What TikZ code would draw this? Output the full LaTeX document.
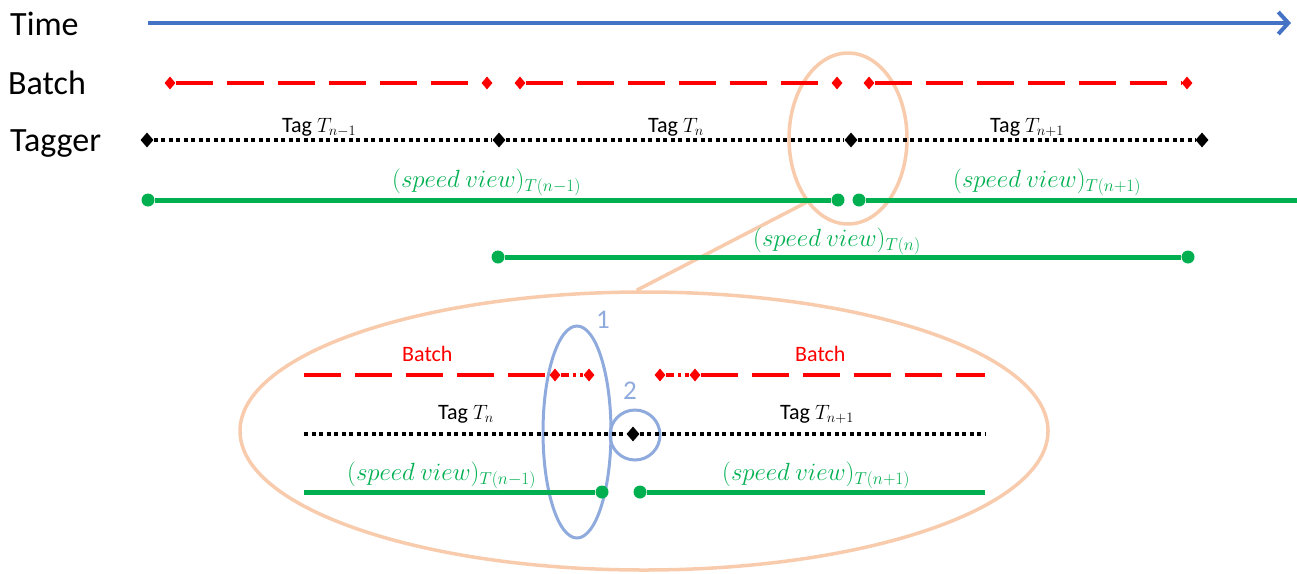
\documentclass[tikz,border=0pt]{standalone}
\usepackage{fontspec}
\setmainfont{Carlito}
\usetikzlibrary{shapes.geometric,arrows.meta}
\definecolor{tblue}{RGB}{68,114,196}
\definecolor{tred}{RGB}{255,0,0}
\definecolor{tgreen}{RGB}{0,176,80}
\definecolor{torange}{RGB}{248,203,173}
\definecolor{lblue}{RGB}{143,170,220}
\tikzset{
  rdia/.style={diamond, fill=tred, inner sep=0, minimum width=11, minimum height=13},
  kdia/.style={diamond, fill=black, inner sep=0, minimum width=13, minimum height=15},
  gdot/.style={circle, fill=tgreen, inner sep=0, minimum size=13},
  redline/.style={draw=tred, line width=4, dash pattern=on 37 off 14},
  redshort/.style={draw=tred, line width=4, dash pattern=on 8 off 4 on 3 off 4},
  blackdots/.style={draw=black, line width=4, dash pattern=on 4 off 3.5},
  greenline/.style={draw=tgreen, line width=5},
  orangeline/.style={draw=torange, line width=3.5},
  blueline/.style={draw=lblue, line width=3},
  lab/.style={anchor=base west, inner sep=0},
  big/.style={lab, font=\fontsize{34}{40}\selectfont},
  tag/.style={lab, font=\fontsize{22}{26}\selectfont},
  sv/.style={lab, text=tgreen, font=\fontsize{24}{29}\selectfont},
  rlab/.style={lab, text=tred, font=\fontsize{22}{26}\selectfont},
  num/.style={inner sep=0, text=lblue, font=\fontsize{27}{32}\selectfont},
}
\begin{document}
\begin{tikzpicture}[x=1pt,y=-1pt]
\useasboundingbox (0,0) rectangle (1297,573);
% zoom ellipses
\node[ellipse, orangeline, inner sep=0, minimum width=118, minimum height=171] (zsrc) at (848,138.5) {};
\node[ellipse, orangeline, inner sep=0, minimum width=808, minimum height=278] (zdst) at (644,431) {};
\draw[orangeline] (zsrc.237) -- (zdst.93);
% blue marks
\node[ellipse, blueline, inner sep=0, minimum width=68, minimum height=212] (m1) at (577,432) {};
\node[circle, blueline, inner sep=0, minimum size=50] (m2) at (635,435) {};
\node[num] (n1) at (603,320) {1};
\node[num] (n2) at (630,391) {2};
% row labels
\node[big] (ltime) at (10,35) {Time};
\node[big] (lbatch) at (8,94) {Batch};
\node[big] (ltagger) at (10,151) {Tagger};
% time arrow
\coordinate (t0) at (148,23);
\coordinate (t1) at (1291,23);
\draw[draw=tblue, line width=4, -{Straight Barb[length=10,width=22]}] (t0) -- (t1);
% batch row
\node[rdia] (b1) at (170,83) {};
\node[rdia] (b2) at (487,83) {};
\node[rdia] (b3) at (520,83) {};
\node[rdia] (b4) at (837,83) {};
\node[rdia] (b5) at (869,83) {};
\node[rdia] (b6) at (1187,83) {};
\draw[redline] (b1) -- (b2);
\draw[redline] (b3) -- (b4);
\draw[redline] (b5) -- (b6);
% tagger row
\node[kdia] (k1) at (147,140) {};
\node[kdia] (k2) at (499,140) {};
\node[kdia] (k3) at (851,140) {};
\node[kdia] (k4) at (1202,140) {};
\draw[blackdots] (k1) -- (k2);
\draw[blackdots] (k2) -- (k3);
\draw[blackdots] (k3) -- (k4);
\node[tag] (tg1) at (282,132) {Tag $T_{n-1}$};
\node[tag] (tg2) at (648,132) {Tag $T_{n}$};
\node[tag] (tg3) at (990,132) {Tag $T_{n+1}$};
% speed view rows
\node[gdot] (g1) at (148,200) {};
\node[gdot] (g2) at (838,200) {};
\node[gdot] (g3) at (859,200) {};
\coordinate (g4) at (1297,200);
\node[gdot] (g5) at (498,257) {};
\node[gdot] (g6) at (1188,257) {};
\draw[greenline] (g1) -- (g2);
\draw[greenline] (g3) -- (g4);
\draw[greenline] (g5) -- (g6);
\node[sv] (s1) at (392,187) {$(speed\ view)_{T(n-1)}$};
\node[sv] (s2) at (953,187) {$(speed\ view)_{T(n+1)}$};
\node[sv] (s3) at (753,246) {$(speed\ view)_{T(n)}$};
% zoomed detail
\coordinate (ib0) at (304,375);
\node[rdia] (ib1) at (555,375) {};
\node[rdia] (ib2) at (589,375) {};
\node[rdia] (ib3) at (660,375) {};
\node[rdia] (ib4) at (695,375) {};
\coordinate (ib5) at (985,375);
\draw[redline] (ib0) -- (ib1);
\draw[redshort] (ib1) -- (ib2);
\draw[redshort] (ib3) -- (ib4);
\draw[redline] (ib4) -- (ib5);
\node[rlab] (rb1) at (402,361) {Batch};
\node[rlab] (rb2) at (795,361) {Batch};
\coordinate (ik0) at (304,434);
\node[kdia] (ik1) at (633,434) {};
\coordinate (ik2) at (985,434);
\draw[blackdots] (ik0) -- (ik1);
\draw[blackdots] (ik1) -- (ik2);
\node[tag] (it1) at (438,419) {Tag $T_{n}$};
\node[tag] (it2) at (780,419) {Tag $T_{n+1}$};
\coordinate (ig0) at (304,492);
\node[gdot] (ig1) at (602,492) {};
\node[gdot] (ig2) at (640,492) {};
\coordinate (ig3) at (985,492);
\draw[greenline] (ig0) -- (ig1);
\draw[greenline] (ig2) -- (ig3);
\node[sv] (is1) at (347,480) {$(speed\ view)_{T(n-1)}$};
\node[sv] (is2) at (722,480) {$(speed\ view)_{T(n+1)}$};
\end{tikzpicture}
\end{document}
